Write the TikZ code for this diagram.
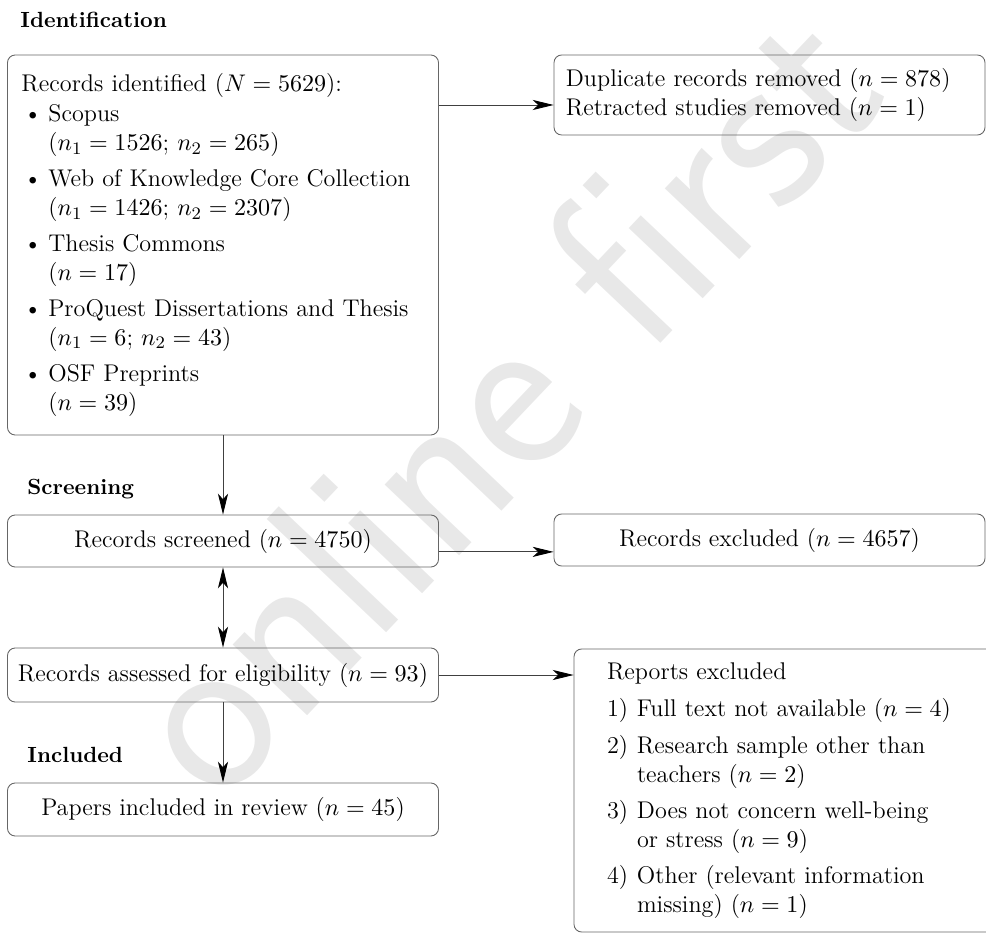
\documentclass[tikz,border=0pt]{standalone}
\usepackage{tikz}
\usetikzlibrary{positioning}
\usetikzlibrary{arrows.meta}
\newcommand{\srcbullet}{\makebox[0.43cm][l]{\hspace{1pt}\textbullet}}
\newcommand{\srcindent}{\hspace*{0.43cm}}
\newcommand{\numitem}[1]{\makebox[0.48cm][l]{#1}}
\newcommand{\numindent}{\hspace*{0.48cm}}
\tikzset{
    boxn/.style = {rectangle, rounded corners=3.5pt, draw=black!60, thin, minimum width=6.896cm, align=center, font=\fontsize{11}{13.15}\selectfont},
    boxl/.style = {boxn, align=left},
    headn/.style = {anchor=base west, inner sep=0pt, font=\fontsize{10}{12}\selectfont\bfseries},
    wmark/.style = {text=black!9, inner sep=0pt, font=\sffamily\fontsize{108}{108}\selectfont},
    edgen/.style = {-{Stealth[length=9.5pt,width=4.6pt,inset=2.5pt,color=black]}, thin, draw=black!75},
    edged/.style = {{Stealth[length=9.5pt,width=4.6pt,inset=2.5pt,color=black]}-{Stealth[length=9.5pt,width=4.6pt,inset=2.5pt,color=black]}, thin, draw=black!75}
}
\begin{document}
\begin{tikzpicture}
\useasboundingbox (0, 0) rectangle (15.776, 14.944);
% watermark
\node[wmark, rotate=46.5] (wm) at (7.95, 8.6) {online first};
%
\node[headn] (hid) at (0.32, 14.496) {Identification};
\node[headn] (hsc) at (0.432, 7.024) {Screening};
\node[headn] (hin) at (0.432, 2.752) {Included};
%
\node[boxl, text width=6.448cm, inner xsep=0.224cm, minimum height=6.08cm] at (3.568, 11.024) (b1) {%
Records identified ($N = 5629$):\\[0.5pt]
\srcbullet Scopus\\
\srcindent($n_1 = 1526$; $n_2 = 265$)\\[3.2pt]
\srcbullet Web of Knowledge Core Collection\\
\srcindent($n_1 = 1426$; $n_2 = 2307$)\\[3.2pt]
\srcbullet Thesis Commons\\
\srcindent($n = 17$)\\[3.2pt]
\srcbullet ProQuest Dissertations and Thesis\\
\srcindent($n_1 = 6$; $n_2 = 43$)\\[3.2pt]
\srcbullet OSF Preprints\\
\srcindent($n = 39$)};
\node[boxl, text width=6.516cm, inner xsep=0.19cm, minimum height=1.28cm] at (12.312, 13.424) (b2) {%
Duplicate records removed ($n = 878$)\\
Retracted studies removed ($n = 1$)};
\node[boxn, minimum height=0.832cm] at (3.568, 6.288) (b3) {Records screened ($n = 4750$)};
\node[boxn, minimum height=0.832cm] at (12.312, 6.304) (b4) {Records excluded ($n = 4657$)};
\node[boxn, minimum height=0.864cm] at (3.568, 4.144) (b5) {Records assessed for eligibility ($n = 93$)};
\node[boxl, text width=5.84cm, inner xsep=0.208cm, minimum height=4.528cm] at (12.632, 2.296) (b6) {%
Reports excluded\\[4.1pt]
\numitem{1)}Full text not available ($n = 4$)\\[3.4pt]
\numitem{2)}Research sample other than\\
\numindent teachers ($n = 2$)\\[3.4pt]
\numitem{3)}Does not concern well-being\\
\numindent or stress ($n = 9$)\\[3.4pt]
\numitem{4)}Other (relevant information\\
\numindent missing) ($n = 1$)};
\node[boxn, minimum height=0.848cm] at (3.568, 1.992) (b7) {Papers included in review ($n = 45$)};
%
\coordinate (c12) at ([yshift=-0.16cm]b2.west);
\coordinate (c34) at ([yshift=-0.19cm]b4.west);
\draw[edgen] (b1.east |- c12) -- (c12);
\draw[edgen] (b1.south) -- (b3.north);
\draw[edgen] (b3.east |- c34) -- (c34);
\draw[edged] (b3.south) -- (b5.north);
\draw[edgen] (b5.east) -- (b5.east -| b6.west);
\draw[edgen] (b5.south) -- (b7.north);
\end{tikzpicture}
\end{document}
